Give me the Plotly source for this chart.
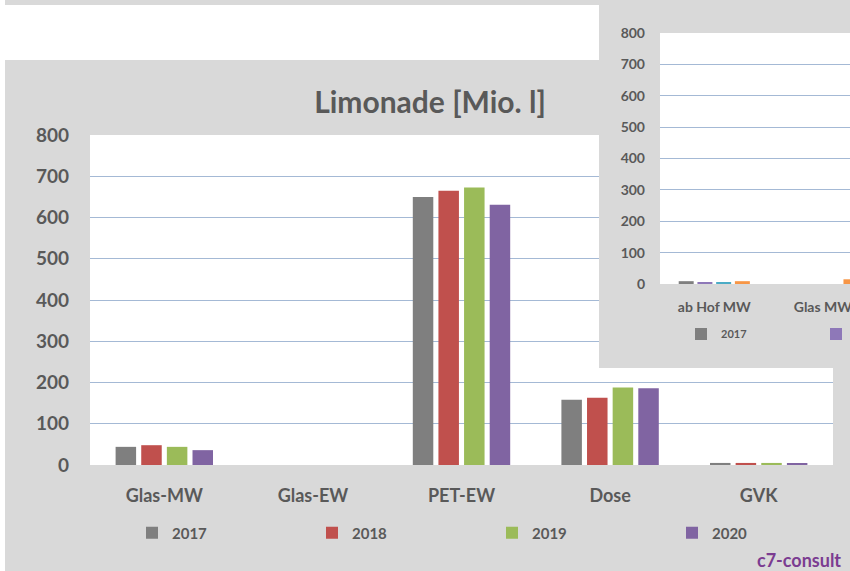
import plotly.graph_objects as go

W, H = 850, 571

# ---- main chart data ----
categories = ["Glas-MW", "Glas-EW", "PET-EW", "Dose", "GVK"]
years = ["2017", "2018", "2019", "2020"]
v2017 = [44, 0, 650, 158, 5]
v2018 = [48, 0, 665, 163, 5]
v2019 = [44, 0, 673, 188, 5]
v2020 = [36, 0, 631, 186, 3]
main_colors = ["#7F7F7F", "#C0504D", "#9BBB59", "#8064A2"]
y_ticks = [0, 100, 200, 300, 400, 500, 600, 700, 800]

# ---- inset (overlapping screenshot) data ----
inset_categories = ["ab Hof MW", "Glas MW"]
inset_years = ["2017", "2018", "2019", "2020"]
i2017 = [9, 0]
i2018 = [6, 0]
i2019 = [6, 0]
i2020 = [9, 15]
inset_colors = ["#7F7F7F", "#8E78B8", "#4BACC6", "#F79646"]

FONT = "Lato, Open Sans, sans-serif"
TXT = "#595959"
GRID = "#A4B9D5"
PANEL = "#D9D9D9"


def px_x(p):
    return p / W


def px_y(p):
    return 1 - p / H


fig = go.Figure()

for name, vals, col in zip(years, [v2017, v2018, v2019, v2020], main_colors):
    fig.add_trace(go.Bar(x=categories, y=vals, name=name, marker_color=col,
                         marker_line_width=0, xaxis="x", yaxis="y",
                         legend="legend"))

# cover subplot (panel of the overlapping screenshot)
fig.add_trace(go.Scatter(x=[None], y=[None], xaxis="x2", yaxis="y2",
                         showlegend=False, hoverinfo="skip"))

for name, vals, col in zip(inset_years, [i2017, i2018, i2019, i2020], inset_colors):
    fig.add_trace(go.Bar(x=inset_categories, y=vals, name=name, marker_color=col,
                         marker_line_width=0, xaxis="x3", yaxis="y3",
                         legend="legend2"))

fig.update_layout(
    width=W, height=H,
    margin=dict(l=0, r=0, t=0, b=0, autoexpand=False),
    paper_bgcolor=PANEL,
    plot_bgcolor="white",
    barmode="group",
    bargap=0.31,
    bargroupgap=0.2,
    showlegend=True,
    title=dict(text="Limonade [Mio. l]", x=px_x(430), y=px_y(102),
               xanchor="center", yanchor="middle", xref="paper", yref="paper",
               font=dict(family=FONT, size=30, color=TXT, weight="bold")),
    xaxis=dict(domain=[px_x(90), px_x(833)], anchor="y", range=[-0.5, 4.5],
               showgrid=False, zeroline=False, showline=False, ticks="",
               tickfont=dict(family=FONT, size=18, color=TXT, weight="bold"),
               ticklabelstandoff=18),
    yaxis=dict(domain=[px_y(465), px_y(135)], anchor="x", range=[0, 800],
               tickvals=y_ticks, showgrid=True, gridcolor=GRID, gridwidth=1,
               zeroline=False, showline=False, ticks="",
               tickfont=dict(family=FONT, size=19, color=TXT, weight="bold"),
               ticklabelstandoff=20),
    xaxis2=dict(domain=[px_x(599), 1.0], anchor="y2", range=[0, 1],
                showgrid=False, zeroline=False, showline=False,
                showticklabels=False, ticks=""),
    yaxis2=dict(domain=[px_y(368), 1.0], anchor="x2", range=[0, 1],
                showgrid=False, zeroline=False, showline=False,
                showticklabels=False, ticks=""),
    xaxis3=dict(domain=[px_x(660), 1.0], anchor="y3", range=[-0.5, 1.25],
                showgrid=False, zeroline=False, showline=False, ticks="",
                tickfont=dict(family=FONT, size=14, color=TXT, weight="bold"),
                ticklabelstandoff=13),
    yaxis3=dict(domain=[px_y(284), px_y(33)], anchor="x3", range=[0, 800],
                tickvals=y_ticks, showgrid=True, gridcolor=GRID, gridwidth=1,
                zeroline=False, showline=False, ticks="",
                tickfont=dict(family=FONT, size=14, color=TXT, weight="bold"),
                ticklabelstandoff=14),
    legend=dict(orientation="h", x=px_x(132), y=px_y(533), xanchor="left",
                yanchor="middle", bgcolor="rgba(0,0,0,0)",
                font=dict(family=FONT, size=15, color=TXT, weight="bold"),
                entrywidth=135, entrywidthmode="pixels", traceorder="normal"),
    legend2=dict(orientation="h", x=px_x(681), y=px_y(334), xanchor="left",
                 yanchor="middle", bgcolor="rgba(0,0,0,0)",
                 font=dict(family=FONT, size=11, color=TXT, weight="bold"),
                 entrywidth=90, entrywidthmode="pixels", traceorder="normal"),
    shapes=[
        # white background around the screenshots
        dict(type="rect", xref="paper", yref="paper", x0=0, x1=px_x(5),
             y0=0, y1=1, fillcolor="white", line_width=0, layer="below"),
        dict(type="rect", xref="paper", yref="paper", x0=px_x(5), x1=px_x(599),
             y0=px_y(60), y1=px_y(5), fillcolor="white", line_width=0, layer="below"),
        # grey panel of the overlapping screenshot (drawn in its own subplot)
        dict(type="rect", xref="x2", yref="y2", x0=0, x1=1, y0=0, y1=1,
             fillcolor=PANEL, line_width=0, layer="below"),
    ],
    annotations=[
        dict(text="<b>c7-consult</b>", xref="paper", yref="paper",
             x=px_x(843), y=px_y(560), xanchor="right", yanchor="middle",
             showarrow=False, font=dict(family=FONT, size=18, color="#7B3C91")),
    ],
)

fig.write_html(
    "out.html",
    config={"displayModeBar": False},
    post_script="document.body.style.margin='0';document.body.style.overflow='hidden';",
)
